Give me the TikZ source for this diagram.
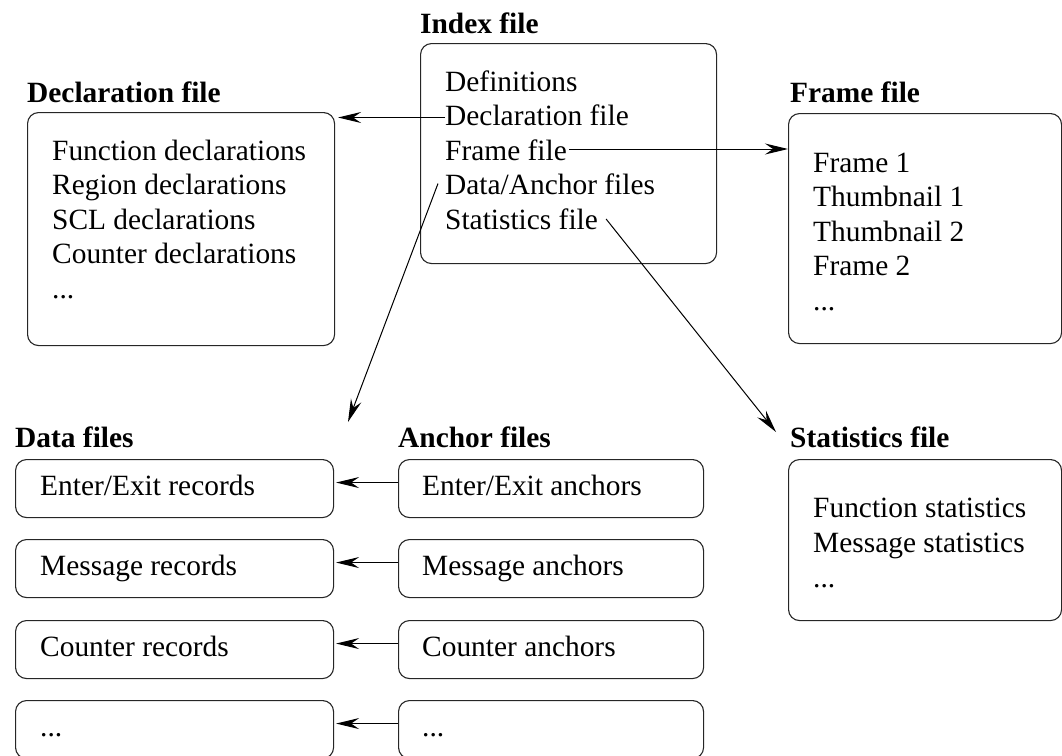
\documentclass[tikz,border=0pt]{standalone}
\usepackage{fontspec}
\setmainfont{Liberation Serif}
\usetikzlibrary{arrows.meta}
\newcommand\mydots{...}
\begin{document}
\begin{tikzpicture}[x=1pt,y=-1pt,
  box/.style={draw=black!85,line width=1.1pt,rounded corners=11pt,anchor=north west,inner sep=0pt},
  txt/.style={anchor=base west,inner sep=0pt,font=\fontsize{29.4}{34}\selectfont},
  ttl/.style={anchor=base west,inner sep=0pt,font=\fontsize{29.4}{34}\selectfont\bfseries},
  arr/.style={line width=1pt,-{Stealth[length=23pt,width=11pt,inset=8pt]}}]
\useasboundingbox (0,0) rectangle (1062,755);
\clip (0,0) rectangle (1062,755);
% Index file
\node[ttl] (tindex) at (420,33) {Index file};
\node[box,minimum width=296pt,minimum height=220pt] (index) at (420,43) {};
\node[txt] (idef) at (445,91) {Definitions};
\node[txt] (idecl) at (445,125.5) {Declaration file};
\node[txt] (iframe) at (445,160) {Frame file};
\node[txt] (idata) at (445,194.5) {Data/Anchor files};
\node[txt] (istat) at (445,229) {Statistics file};
% Declaration file
\node[ttl] (tdecl) at (27,102) {Declaration file};
\node[box,minimum width=307pt,minimum height=233pt] (decl) at (27,112) {};
\node[txt] (d1) at (52,160) {Function declarations};
\node[txt] (d2) at (52,194.5) {Region declarations};
\node[txt] (d3) at (52,229) {SCL declarations};
\node[txt] (d4) at (52,263.5) {Counter declarations};
\node[txt] (d5) at (52,298) {\mydots};
% Frame file
\node[ttl] (tframe) at (790,102) {Frame file};
\node[box,minimum width=273pt,minimum height=230pt] (frame) at (788,113) {};
\node[txt] (f1) at (813,172) {Frame 1};
\node[txt] (f2) at (813,206.5) {Thumbnail 1};
\node[txt] (f3) at (813,241) {Thumbnail 2};
\node[txt] (f4) at (813,275.5) {Frame 2};
\node[txt] (f5) at (813,310) {\mydots};
% Statistics file
\node[ttl] (tstat) at (790,447) {Statistics file};
\node[box,minimum width=273pt,minimum height=161pt] (stat) at (788,459) {};
\node[txt] (s1) at (813,517) {Function statistics};
\node[txt] (s2) at (813,552) {Message statistics};
\node[txt] (s3) at (813,587) {\mydots};
% Data and anchor files
\node[ttl] (tdata) at (15,447) {Data files};
\node[ttl] (tanch) at (398,447) {Anchor files};
\foreach \n/\t/\dt/\at in {1/459/Enter\slash Exit records/Enter\slash Exit anchors,
                          2/539/Message records/Message anchors,
                          3/620/Counter records/Counter anchors,
                          4/700/\mydots/\mydots}{
  \node[box,minimum width=318pt,minimum height=58pt] (data\n) at (15,\t) {};
  \node[box,minimum width=305pt,minimum height=58pt] (anch\n) at (398,\t) {};
  \node[txt] at (40,\t+36) {\dt};
  \node[txt] at (422,\t+36) {\at};
  \draw[arr] ([yshift=6pt]anch\n.west) -- ([yshift=6pt,xshift=2pt]data\n.east);
}
% connectors from index file
\coordinate (declstart) at ([yshift=8pt]idecl.base west);
\coordinate (declend) at ([xshift=3pt]decl.east |- declstart);
\coordinate (framestart) at ([yshift=11pt,xshift=2pt]iframe.base east);
\coordinate (frameend) at (frame.west |- framestart);
\coordinate (datastart) at ([xshift=-7pt,yshift=11pt]idata.base west);
\coordinate (statstart) at ([xshift=8pt,yshift=10pt]istat.base east);
\coordinate (datatip) at (348,422);
\coordinate (stattip) at (776,432);
\draw[arr] (declstart) -- (declend);
\draw[arr] (framestart) -- (frameend);
\draw[arr] (datastart) -- (datatip);
\draw[arr] (statstart) -- (stattip);
\end{tikzpicture}
\end{document}
